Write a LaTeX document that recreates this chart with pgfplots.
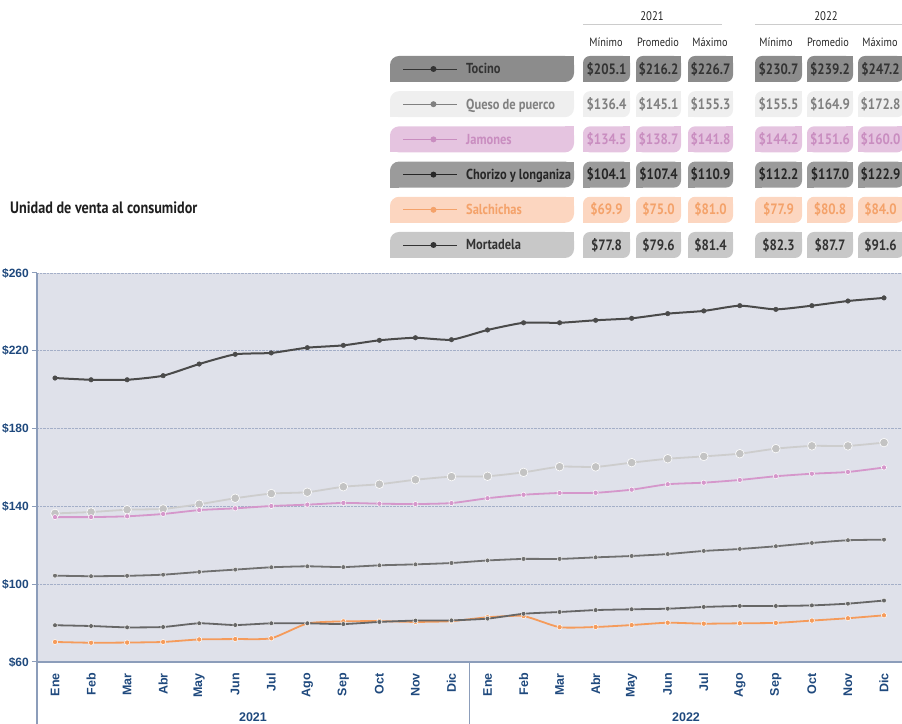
\documentclass[border=0pt]{standalone}
\usepackage{fontspec}
\setmainfont{Liberation Sans}
\newfontfamily\condf[FakeStretch=0.86]{PT Sans}
\usepackage{pgfplots}
\pgfplotsset{compat=1.18}
\definecolor{bgc}{HTML}{DFE1EA}
\definecolor{axc}{HTML}{8C9DBA}
\definecolor{gridc}{HTML}{A4AFC8}
\definecolor{tickc}{HTML}{1F497D}
\definecolor{tocL}{HTML}{4A4A4A}
\definecolor{queL}{HTML}{CDCDCD}
\definecolor{jamL}{HTML}{D597CB}
\definecolor{choL}{HTML}{707070}
\definecolor{salL}{HTML}{F59B5B}
\definecolor{morL}{HTML}{666666}
\definecolor{tocB}{HTML}{8C8C8C}
\definecolor{tocT}{HTML}{333333}
\definecolor{queB}{HTML}{EFEFEF}
\definecolor{queT}{HTML}{808080}
\definecolor{jamB}{HTML}{E5C4E0}
\definecolor{jamT}{HTML}{C98DC0}
\definecolor{choB}{HTML}{9B9B9B}
\definecolor{choT}{HTML}{262626}
\definecolor{salB}{HTML}{FCD6C0}
\definecolor{salT}{HTML}{F4A26A}
\definecolor{morB}{HTML}{C8C8C8}
\definecolor{morT}{HTML}{333333}
\definecolor{hdrL}{HTML}{CCCCCC}
\newcommand{\valfont}{\condf\bfseries\fontsize{15bp}{17bp}\selectfont}
\newcommand{\labfont}{\condf\bfseries\fontsize{14.5bp}{17bp}\selectfont}
\newcommand{\leafbox}[5]{%
  \fill[#4, rounded corners=#5] (#1,#3-13bp) rectangle (#2,#3+13bp);
  \fill[#4] (#2-#5,#3) rectangle (#2,#3+13bp);
  \fill[#4] (#1,#3-13bp) rectangle (#1+#5,#3);
}
\newcommand{\valrow}[9]{%
  \leafbox{583bp}{630bp}{#1}{#2}{7bp}
  \leafbox{636bp}{681bp}{#1}{#2}{7bp}
  \leafbox{688bp}{733bp}{#1}{#2}{7bp}
  \leafbox{755bp}{802bp}{#1}{#2}{7bp}
  \leafbox{807bp}{853bp}{#1}{#2}{7bp}
  \leafbox{858bp}{904bp}{#1}{#2}{7bp}
  \node[anchor=base, text=#3, font=\valfont, inner sep=0pt] at (606.5bp,#1-5.2bp) {\$#4};
  \node[anchor=base, text=#3, font=\valfont, inner sep=0pt] at (658.5bp,#1-5.2bp) {\$#5};
  \node[anchor=base, text=#3, font=\valfont, inner sep=0pt] at (710.5bp,#1-5.2bp) {\$#6};
  \node[anchor=base, text=#3, font=\valfont, inner sep=0pt] at (778.5bp,#1-5.2bp) {\$#7};
  \node[anchor=base, text=#3, font=\valfont, inner sep=0pt] at (830bp,#1-5.2bp) {\$#8};
  \node[anchor=base, text=#3, font=\valfont, inner sep=0pt] at (880.5bp,#1-5.2bp) {\$#9};
}
\newcommand{\labrow}[4]{%
  \leafbox{390bp}{574bp}{#1}{#2}{9bp}
  \node[anchor=base west, text=#3, font=\labfont, inner sep=0pt] at (466bp,#1-5bp) {#4};
}
\pgfplotsset{keyimg/.style={legend image code/.code={%
  \path[draw=none, fill=none] (0bp,-17.6bp) rectangle (54bp,17.6bp);
  \draw[#1, line width=0.9bp] (0bp,0bp) -- (54bp,0bp);
  \fill[#1, draw=none] (30bp,0bp) circle (3bp);}}}
\begin{document}
\begin{tikzpicture}[x=1bp,y=1bp]
% header
\node[anchor=base, font=\condf\fontsize{12.5bp}{14bp}\selectfont, text=black!85, inner sep=0pt] at (652bp,703.3bp) {2021};
\node[anchor=base, font=\condf\fontsize{12.5bp}{14bp}\selectfont, text=black!85, inner sep=0pt] at (826bp,703.3bp) {2022};
\draw[hdrL, line width=1bp] (583bp,699bp) -- (722bp,699bp);
\draw[hdrL, line width=1bp] (755bp,699bp) -- (902bp,699bp);
\foreach \xx/\tt in {606/M\'inimo, 658/Promedio, 710/M\'aximo, 776/M\'inimo, 828/Promedio, 880/M\'aximo}{
  \node[anchor=base, font=\condf\fontsize{12bp}{14bp}\selectfont, text=black!85, inner sep=0pt] at (\xx bp,677bp) {\tt};
}
% label boxes
\labrow{655bp}{tocB}{tocT}{Tocino}
\labrow{619.8bp}{queB}{queT}{Queso de puerco}
\labrow{584.6bp}{jamB}{jamT}{Jamones}
\labrow{549.4bp}{choB}{choT}{Chorizo y longaniza}
\labrow{514.2bp}{salB}{salT}{Salchichas}
\labrow{479bp}{morB}{morT}{Mortadela}
% value boxes
\valrow{655bp}{tocB}{tocT}{205.1}{216.2}{226.7}{230.7}{239.2}{247.2}
\valrow{619.8bp}{queB}{queT}{136.4}{145.1}{155.3}{155.5}{164.9}{172.8}
\valrow{584.6bp}{jamB}{jamT}{134.5}{138.7}{141.8}{144.2}{151.6}{160.0}
\valrow{549.4bp}{choB}{choT}{104.1}{107.4}{110.9}{112.2}{117.0}{122.9}
\valrow{514.2bp}{salB}{salT}{69.9}{75.0}{81.0}{77.9}{80.8}{84.0}
\valrow{479bp}{morB}{morT}{77.8}{79.6}{81.4}{82.3}{87.7}{91.6}
% title
\node[anchor=base west, font=\condf\bfseries\fontsize{16.5bp}{18bp}\selectfont, text=black!88, inner sep=0pt] at (10bp,510bp) {Unidad de venta al consumidor};
\begin{axis}[
  at={(37bp,62bp)}, anchor=south west,
  scale only axis, width=865bp, height=389bp,
  xmin=-0.5, xmax=23.5, ymin=60, ymax=260,
  axis lines=left, axis line style={-, draw=axc, line width=1.2bp},
  axis background/.style={fill=bgc},
  ytick={60,100,140,180,220,260},
  yticklabels={\$60,\$100,\$140,\$180,\$220,\$260},
  ymajorgrids, grid style={densely dotted, gridc, line width=0.8bp},
  xtick={0,...,23},
  xticklabels={Ene,Feb,Mar,Abr,May,Jun,Jul,Ago,Sep,Oct,Nov,Dic,Ene,Feb,Mar,Abr,May,Jun,Jul,Ago,Sep,Oct,Nov,Dic},
  xticklabel style={rotate=90, anchor=east, inner sep=0pt, font=\bfseries\fontsize{12.5bp}{14bp}\selectfont, text=tickc},
  yticklabel style={anchor=east, inner sep=0pt, font=\bfseries\fontsize{12bp}{14bp}\selectfont, text=tickc},
  xticklabel shift=6bp, yticklabel shift=3bp,
  xtick style={draw=none},
  ytick style={draw=axc, line width=1bp},
  tick align=outside, major tick length=5bp,
  every axis plot/.append style={smooth, tension=0.35},
  legend style={at={(0.42312,1.56967)}, anchor=north west, draw=none, fill=none, inner sep=0pt, outer sep=0pt,
     row sep=0bp, column sep=0bp,
     nodes={inner sep=0pt, text height=0bp, text depth=0bp}},
  legend cell align=left,
]
\addplot[tocL, line width=2bp, mark=*, mark size=2.3bp, mark options={fill=tocL, draw=tocL, line width=0.4bp}, keyimg=tocT]
coordinates {(0,206.0) (1,205.1) (2,205.1) (3,207.2) (4,213.2) (5,218.2) (6,218.9) (7,221.6) (8,222.8) (9,225.4) (10,226.7) (11,225.7)
(12,230.7) (13,234.4) (14,234.4) (15,235.7) (16,236.7) (17,239.1) (18,240.5) (19,243.2) (20,241.3) (21,243.2) (22,245.6) (23,247.2)};
\addlegendentry{}
\addplot[queL, line width=1.8bp, mark=*, mark size=4.3bp, mark options={fill=queL!95!black, draw=white, line width=0.6bp}, keyimg=queT]
coordinates {(0,136.4) (1,137.1) (2,138.3) (3,138.7) (4,141.1) (5,144.2) (6,146.6) (7,147.3) (8,150.1) (9,151.4) (10,153.7) (11,155.3)
(12,155.5) (13,157.5) (14,160.4) (15,160.3) (16,162.5) (17,164.5) (18,165.7) (19,167.1) (20,169.7) (21,171.1) (22,171.1) (23,172.8)};
\addlegendentry{}
\addplot[jamL, line width=1.8bp, mark=*, mark size=2.6bp, mark options={fill=jamL, draw=white, line width=0.5bp}, keyimg=jamT]
coordinates {(0,134.5) (1,134.5) (2,134.9) (3,136.1) (4,138.1) (5,139.0) (6,140.2) (7,140.9) (8,141.8) (9,141.4) (10,141.2) (11,141.7)
(12,144.2) (13,146.0) (14,146.9) (15,147.0) (16,148.6) (17,151.4) (18,152.2) (19,153.6) (20,155.5) (21,156.8) (22,157.7) (23,160.0)};
\addlegendentry{}
\addplot[choL, line width=1.8bp, mark=*, mark size=2.4bp, mark options={fill=choL, draw=white, line width=0.4bp}, keyimg=choT]
coordinates {(0,104.4) (1,104.1) (2,104.3) (3,104.9) (4,106.3) (5,107.5) (6,108.7) (7,109.2) (8,108.8) (9,109.7) (10,110.2) (11,110.9)
(12,112.2) (13,113.0) (14,113.0) (15,113.8) (16,114.5) (17,115.5) (18,117.1) (19,118.1) (20,119.5) (21,121.2) (22,122.6) (23,122.9)};
\addlegendentry{}
\addplot[salL, line width=1.8bp, mark=*, mark size=2.6bp, mark options={fill=salL, draw=white, line width=0.5bp}, keyimg=salT]
coordinates {(0,70.3) (1,69.9) (2,70.0) (3,70.3) (4,71.6) (5,71.8) (6,72.2) (7,79.8) (8,80.9) (9,81.0) (10,80.6) (11,81.0)
(12,83.0) (13,83.6) (14,77.9) (15,78.0) (16,79.0) (17,80.2) (18,79.7) (19,79.9) (20,80.1) (21,81.3) (22,82.5) (23,84.0)};
\addlegendentry{}
\addplot[morL, line width=1.8bp, mark=*, mark size=2.4bp, mark options={fill=morL, draw=white, line width=0.4bp}, keyimg=morT]
coordinates {(0,78.9) (1,78.5) (2,77.8) (3,78.0) (4,79.9) (5,79.0) (6,79.9) (7,79.9) (8,79.5) (9,80.6) (10,81.3) (11,81.4)
(12,82.3) (13,84.8) (14,85.7) (15,86.7) (16,87.1) (17,87.4) (18,88.3) (19,88.8) (20,88.8) (21,89.1) (22,90.0) (23,91.6)};
\addlegendentry{}
\end{axis}
\draw[axc, line width=1.2bp] (37bp,62bp) -- (37bp,0bp);
\draw[axc, line width=1bp] (469bp,62bp) -- (469bp,0bp);
\node[font=\bfseries\fontsize{12.5bp}{14bp}\selectfont, text=tickc, inner sep=0pt, anchor=base] at (253bp,3bp) {2021};
\node[font=\bfseries\fontsize{12.5bp}{14bp}\selectfont, text=tickc, inner sep=0pt, anchor=base] at (686bp,3bp) {2022};
\pgfresetboundingbox
\path[use as bounding box] (0bp,0bp) rectangle (902bp,724bp);
\end{tikzpicture}
\end{document}
